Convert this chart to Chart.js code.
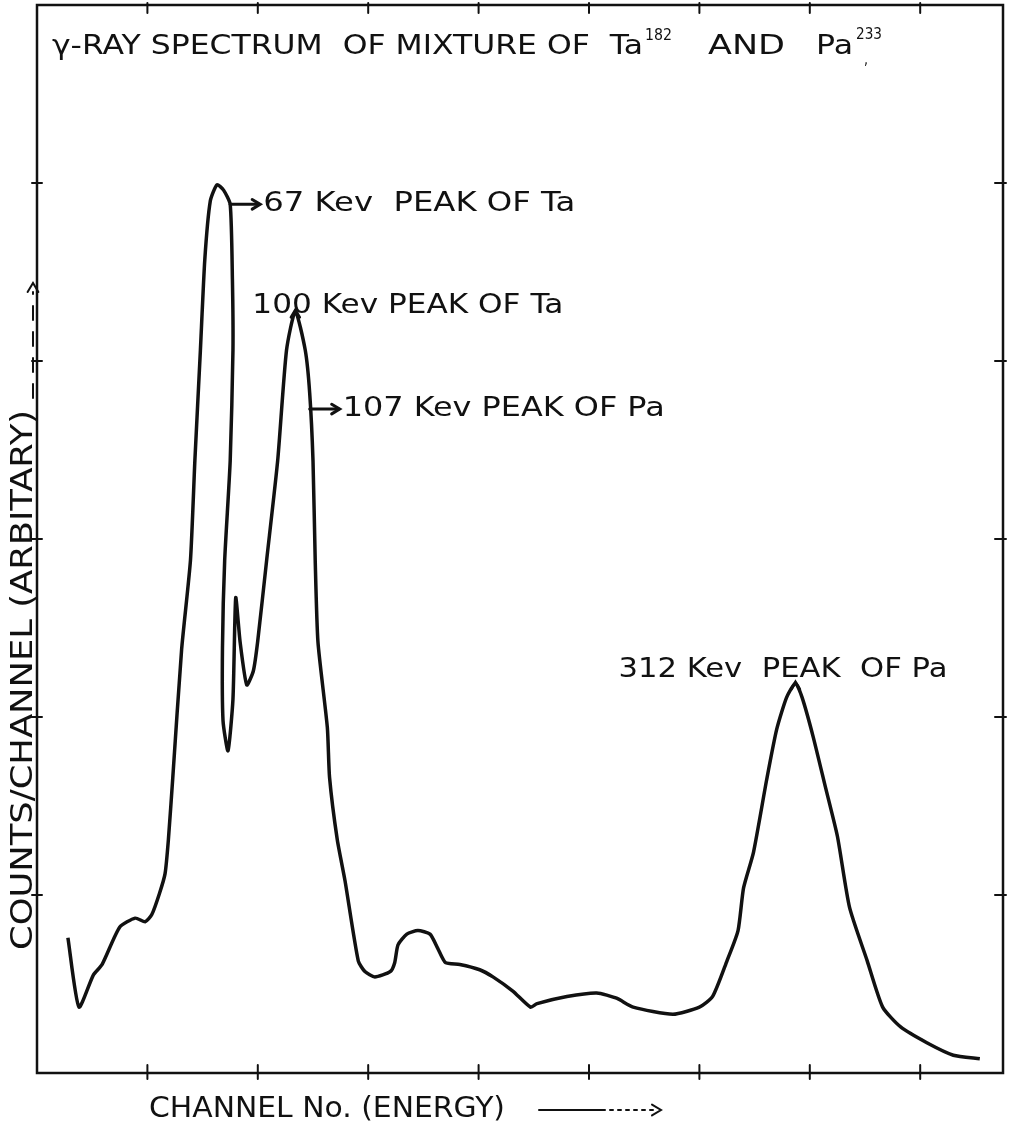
<!DOCTYPE html>
<html>
<head>
<meta charset="utf-8">
<script src="https://cdn.jsdelivr.net/npm/chart.js@4.4.1/dist/chart.umd.min.js"></script>
<style>
  html, body { margin: 0; padding: 0; background: #fff; }
  #wrap { width: 1009px; height: 1129px; }
</style>
</head>
<body>
<div id="wrap"><canvas id="spectrum" width="1009" height="1129"></canvas></div>
<script>
// channel (10 per tick mark) and counts/channel (1 per tick mark)
const channel = [
  2.8, 3.8, 5.1, 5.9, 7.5, 8.9, 9.8, 10.4, 11.1, 11.6, 11.9, 12.3, 13.1, 13.9, 14.3, 14.8,
  15.2, 15.7, 16.3, 16.9, 17.5, 17.7, 17.75, 17.5, 17.0, 16.8, 16.85, 17.3, 17.75, 18.0,
  18.4, 19.0, 19.6, 20.0, 20.8, 21.8, 22.6, 23.4, 24.3, 24.7, 25.0, 25.2, 25.45, 26.3,
  26.5, 27.2, 27.9, 29.1, 29.7, 30.6, 32.0, 32.4, 32.7, 33.5, 34.5, 35.6, 36.3, 37.0,
  38.3, 40.1, 41.3, 43.1, 44.7, 45.3, 48.0, 50.7, 52.5, 54.0, 57.6, 60.0, 61.2, 62.5,
  63.5, 64.0, 64.9, 66.1, 67.0, 67.9, 68.7, 69.3, 70.3, 71.4, 72.5, 73.6, 75.2, 76.6,
  78.2, 80.6, 83.0, 85.4
];
const counts = [
  0.76, 0.37, 0.55, 0.61, 0.82, 0.87, 0.85, 0.89, 1.01, 1.12, 1.31, 1.66, 2.38, 2.88, 3.44, 4.06,
  4.57, 4.90, 4.99, 4.96, 4.88, 4.46, 4.06, 3.44, 2.88, 2.39, 1.98, 1.81, 2.10, 2.67,
  2.42, 2.18, 2.26, 2.43, 2.88, 3.44, 4.06, 4.28, 4.06, 3.82, 3.44, 2.88, 2.42, 1.94,
  1.66, 1.31, 1.08, 0.63, 0.57, 0.54, 0.57, 0.62, 0.72, 0.78, 0.80, 0.78, 0.70, 0.62,
  0.61, 0.58, 0.54, 0.46, 0.37, 0.39, 0.43, 0.45, 0.42, 0.37, 0.33, 0.37, 0.43, 0.63,
  0.80, 1.04, 1.24, 1.65, 1.93, 2.11, 2.19, 2.11, 1.89, 1.61, 1.33, 0.93, 0.63, 0.37,
  0.26, 0.17, 0.10, 0.08
];
const xTicks = [10, 20, 30, 40, 50, 60, 70, 80];
const yTicks = [1, 2, 3, 4, 5];

// peak labels, anchored at a point of the curve (data units)
const peakNotes = [
  { text: "67 Kev  PEAK OF Ta", x: 17.5, y: 4.88, kind: "side", w: 312 },
  { text: "100 Kev PEAK OF Ta", x: 23.4, y: 4.28, kind: "top", dx: -43, dy: -5, w: 311 },
  { text: "107 Kev PEAK OF Pa", x: 24.7, y: 3.73, kind: "side", w: 322 },
  { text: "312 Kev  PEAK  OF Pa", x: 68.7, y: 2.19, kind: "top", dx: -177, dy: -13, w: 329 }
];

const FONT = '"DejaVu Sans", sans-serif';

// draws text squeezed/stretched to an exact width
function fitText(ctx, text, x, y, width, size) {
  ctx.font = size + "px " + FONT;
  const m = ctx.measureText(text).width;
  ctx.save();
  ctx.translate(x, y);
  ctx.scale(width / m, 1);
  ctx.fillText(text, 0, 0);
  ctx.restore();
}

function arrowHead(ctx, x, y, dir, s) {
  ctx.beginPath();
  if (dir === "right") {
    ctx.moveTo(x - s, y - s * 0.6); ctx.lineTo(x, y); ctx.lineTo(x - s, y + s * 0.6);
  } else {
    ctx.moveTo(x - s * 0.6, y + s); ctx.lineTo(x, y); ctx.lineTo(x + s * 0.6, y + s);
  }
  ctx.stroke();
}

const decorations = {
  id: "decorations",
  afterDraw(chart) {
    const ctx = chart.ctx;
    const a = chart.chartArea;
    const xs = chart.scales.x, ys = chart.scales.y;
    ctx.save();
    ctx.strokeStyle = "#111";
    ctx.fillStyle = "#111";
    ctx.lineCap = "round";

    // frame
    ctx.lineWidth = 2.5;
    ctx.strokeRect(a.left, a.top, a.right - a.left, a.bottom - a.top);

    // tick marks on all four sides
    ctx.lineWidth = 2;
    xTicks.forEach((v) => {
      const px = xs.getPixelForValue(v);
      ctx.beginPath();
      ctx.moveTo(px, a.bottom - 8); ctx.lineTo(px, a.bottom + 6);
      ctx.moveTo(px, a.top - 2); ctx.lineTo(px, a.top + 8);
      ctx.stroke();
    });
    yTicks.forEach((v) => {
      const py = ys.getPixelForValue(v);
      ctx.beginPath();
      ctx.moveTo(a.left - 5, py); ctx.lineTo(a.left + 5, py);
      ctx.moveTo(a.right - 8, py); ctx.lineTo(a.right + 3, py);
      ctx.stroke();
    });

    // title
    ctx.textBaseline = "middle";
    ctx.textAlign = "left";
    fitText(ctx, "γ-RAY SPECTRUM  OF MIXTURE OF  Ta", 52, 47, 591, 27);
    ctx.font = "bold 15px " + FONT;
    fitText(ctx, "182", 645, 36, 27, 15);
    fitText(ctx, "AND", 708, 47, 77, 27);
    fitText(ctx, "Pa", 816, 47, 37, 27);
    fitText(ctx, "233", 856, 35, 26, 15);
    fitText(ctx, ",", 864, 60, 4, 16);

    // peak labels
    ctx.lineWidth = 3;
    peakNotes.forEach((n) => {
      const px = xs.getPixelForValue(n.x);
      const py = ys.getPixelForValue(n.y);
      if (n.kind === "side") {
        ctx.beginPath();
        ctx.moveTo(px, py); ctx.lineTo(px + 29, py);
        ctx.stroke();
        arrowHead(ctx, px + 30, py, "right", 8);
        fitText(ctx, n.text, px + 33, py, n.w, 27);
      } else {
        arrowHead(ctx, px, py - 1, "up", 7);
        fitText(ctx, n.text, px + n.dx, py + n.dy, n.w, 27);
      }
    });

    // x axis label
    ctx.lineWidth = 2;
    fitText(ctx, "CHANNEL No. (ENERGY)", 149, 1110, 356, 28);
    ctx.beginPath();
    ctx.moveTo(539, 1110); ctx.lineTo(605, 1110);
    ctx.stroke();
    ctx.setLineDash([3, 5]);
    ctx.beginPath();
    ctx.moveTo(610, 1110); ctx.lineTo(656, 1110);
    ctx.stroke();
    ctx.setLineDash([]);
    arrowHead(ctx, 661, 1110, "right", 9);

    // y axis label
    ctx.save();
    ctx.translate(24, 950);
    ctx.rotate(-Math.PI / 2);
    fitText(ctx, "COUNTS/CHANNEL (ARBITARY)", 0, 0, 540, 30);
    ctx.restore();
    ctx.setLineDash([14, 12]);
    ctx.beginPath();
    ctx.moveTo(33, 398); ctx.lineTo(33, 292);
    ctx.stroke();
    ctx.setLineDash([]);
    arrowHead(ctx, 33, 283, "up", 9);

    ctx.restore();
  }
};

new Chart(document.getElementById("spectrum"), {
  type: "line",
  data: {
    datasets: [
      {
        label: "γ-ray spectrum",
        data: channel.map((c, i) => ({ x: c, y: counts[i] })),
        borderColor: "#111",
        borderWidth: 3.5,
        pointRadius: 0,
        tension: 0.2,
        fill: false,
      },
    ],
  },
  options: {
    responsive: false,
    animation: false,
    devicePixelRatio: 1,
    layout: { padding: { left: 37, right: 6, top: 5, bottom: 56 } },
    plugins: { legend: { display: false }, tooltip: { enabled: false } },
    scales: {
      x: { type: "linear", min: 0, max: 87.5, display: false },
      y: { type: "linear", min: 0, max: 6, display: false },
    },
  },
  plugins: [decorations],
});
</script>
</body>
</html>
